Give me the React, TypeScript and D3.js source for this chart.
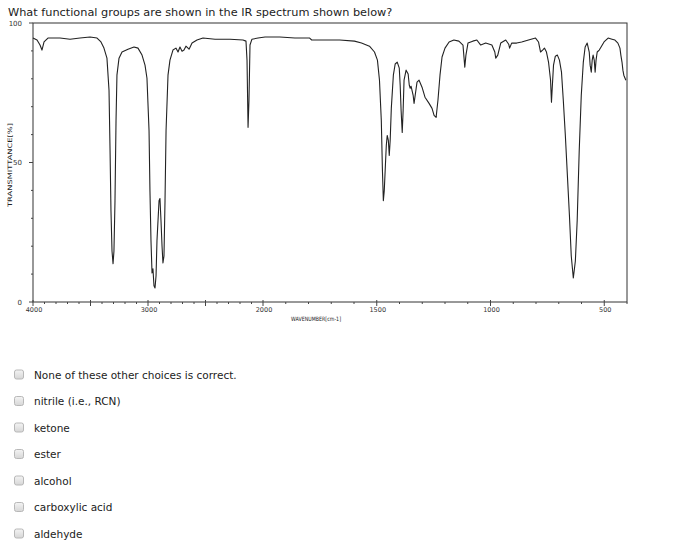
import React from "react";
import * as d3 from "d3";

const questionText = "What functional groups are shown in the IR spectrum shown below?";
const choices = [
  "None of these other choices is correct.",
  "nitrile (i.e., RCN)",
  "ketone",
  "ester",
  "alcohol",
  "carboxylic acid",
  "aldehyde",
];

const xTickLabels = [4000, 3000, 2000, 1500, 1000, 500];
const yTickLabels = [0, 50, 100];

// wavenumber (cm-1)
const wavenumbers = [
  4000, 3965, 3939, 3922, 3904, 3870, 3765, 3678, 3591, 3504, 3443, 3409, 3383, 3357, 3339, 3330, 3322, 3313, 3304, 3296,
  3287, 3278, 3270, 3252, 3226, 3174, 3122, 3087, 3052, 3026, 3009, 2991, 2983, 2974, 2965, 2957, 2948, 2939, 2930, 2922,
  2904, 2896, 2887, 2878, 2870, 2861, 2852, 2843, 2826, 2809, 2783, 2757, 2739, 2722, 2704, 2687, 2670, 2643, 2617, 2574,
  2522, 2417, 2287, 2174, 2148, 2139, 2130, 2122, 2113, 2096, 2043, 1991, 1926, 1860, 1795, 1786, 1729, 1663, 1598, 1567,
  1532, 1510, 1497, 1488, 1480, 1475, 1471, 1467, 1462, 1458, 1454, 1449, 1445, 1441, 1436, 1427, 1419, 1410, 1401, 1397,
  1393, 1388, 1384, 1380, 1371, 1362, 1357, 1353, 1349, 1340, 1336, 1331, 1323, 1314, 1301, 1288, 1270, 1257, 1248, 1239,
  1231, 1222, 1213, 1200, 1182, 1161, 1139, 1121, 1113, 1108, 1099, 1078, 1060, 1043, 1021, 994, 981, 977, 968, 955,
  933, 920, 916, 907, 885, 863, 833, 802, 789, 780, 771, 763, 754, 745, 736, 732, 728, 723, 715, 706,
  697, 688, 680, 671, 662, 653, 645, 636, 627, 619, 610, 601, 592, 584, 575, 566, 562, 557, 553, 549,
  544, 540, 536, 531, 522, 514, 501, 483, 466, 453, 440, 431, 427, 422, 418, 414, 405,
];

// transmittance (%)
const transmittance = [
  94.6, 93.9, 92.1, 90.3, 93.2, 94.6, 94.6, 94.2, 94.6, 95.0, 94.6, 93.2, 91.0, 87.4, 75.9, 54.3, 32.7, 18.3, 13.7, 18.3,
  36.3, 65.1, 81.3, 87.4, 89.6, 90.6, 91.4, 91.0, 88.5, 84.9, 80.2, 61.5, 39.9, 21.9, 10.4, 11.9, 5.8, 5.0, 9.4, 21.9,
  36.3, 37.1, 29.1, 20.1, 14.0, 16.5, 36.3, 61.5, 81.3, 86.7, 90.3, 91.0, 89.6, 91.4, 89.9, 90.3, 91.7, 90.6, 92.8, 93.9,
  94.6, 94.2, 94.2, 93.9, 93.5, 86.7, 62.6, 72.3, 92.1, 94.2, 94.6, 95.0, 95.0, 94.6, 94.6, 93.9, 93.9, 93.9, 93.5, 92.8,
  91.7, 89.6, 86.7, 79.5, 65.1, 47.1, 36.3, 39.9, 48.9, 56.1, 59.7, 57.9, 52.5, 57.9, 69.4, 81.3, 85.3, 86.0, 83.8, 77.7,
  68.7, 60.8, 68.7, 79.5, 83.1, 81.7, 77.7, 76.6, 77.3, 74.1, 71.2, 74.1, 78.8, 79.5, 77.0, 73.4, 71.2, 69.4, 66.9, 66.2,
  72.3, 81.3, 87.8, 91.0, 93.2, 93.9, 93.5, 92.1, 84.2, 88.5, 92.8, 93.5, 93.9, 92.1, 92.8, 92.1, 89.6, 87.4, 88.5, 92.8,
  93.9, 92.4, 91.0, 92.8, 92.8, 93.2, 93.9, 94.6, 93.2, 89.6, 90.3, 91.0, 89.6, 86.0, 79.5, 71.6, 77.7, 84.9, 88.1, 88.5,
  86.7, 82.4, 72.3, 59.7, 45.3, 30.9, 16.5, 8.6, 14.7, 29.1, 54.3, 74.1, 86.0, 91.4, 92.8, 89.6, 84.9, 82.4, 86.7, 88.5,
  86.7, 82.4, 86.7, 89.6, 90.3, 91.4, 93.2, 94.6, 94.2, 93.9, 92.8, 91.0, 88.5, 86.0, 83.1, 81.3, 79.5,
];

const x = d3.scaleLinear().domain([4000, 2000, 400]).range([33, 263, 627]);
const y = d3.scaleLinear().domain([0, 100]).range([302, 23]);

const xMinorTicks = d3.range(4000, 399, -100);
const yMinorTicks = d3.range(0, 101, 10);

export default function App() {
  const points = wavenumbers.map((w, i) => [w, transmittance[i]] as [number, number]);
  const line = d3
    .line<[number, number]>()
    .x((d) => x(d[0]))
    .y((d) => y(d[1]))
    .curve(d3.curveLinear);
  const axisFont = "'DejaVu Sans', sans-serif";
  return (
    <svg
      width={700}
      height={558}
      style={{ position: "absolute", left: 0, top: 0, background: "#fff" }}
    >
      <defs>
        <linearGradient id="cb" x1="0" y1="0" x2="0" y2="1">
          <stop offset="0" stopColor="#f4f4f4" />
          <stop offset="1" stopColor="#d6d6d6" />
        </linearGradient>
      </defs>
      <text x={8} y={16} fontFamily="'DejaVu Sans', Verdana, sans-serif" fontSize={11.3} fill="#222">
        {questionText}
      </text>

      {/* frame */}
      <rect x={x(4000)} y={y(100)} width={x(400) - x(4000)} height={y(0) - y(100)} fill="none" stroke="#333" strokeWidth={1} />

      {/* y ticks */}
      {yMinorTicks.map((t) => (
        <line key={"yt" + t} x1={x(4000) - (t % 50 === 0 ? 4 : 2)} x2={x(4000)} y1={y(t)} y2={y(t)} stroke="#444" strokeWidth={1} />
      ))}
      {yTickLabels.map((t) => (
        <text key={"yl" + t} x={x(4000) - 11} y={y(t) + 2.5} textAnchor="end" fontFamily={axisFont} fontSize={7} fill="#333">
          {t}
        </text>
      ))}

      {/* x ticks */}
      {xMinorTicks.map((t) => (
        <line
          key={"xt" + t}
          x1={x(t)}
          x2={x(t)}
          y1={t % 500 === 0 ? y(0) - 2 : y(0)}
          y2={y(0) + (t % 500 === 0 ? 4 : 2)}
          stroke="#444"
          strokeWidth={1}
        />
      ))}
      {xTickLabels.map((t) => (
        <text key={"xl" + t} x={x(t) + 1} y={y(0) + 9.5} textAnchor="middle" fontFamily={axisFont} fontSize={6.5} fill="#333">
          {t}
        </text>
      ))}

      <text x={291} y={321} textLength={50} lengthAdjust="spacingAndGlyphs" fontFamily={axisFont} fontSize={6} fill="#222">
        WAVENUMBER[cm-1]
      </text>
      <text
        transform={`translate(12,${165}) rotate(-90)`}
        x={-42}
        textLength={84}
        lengthAdjust="spacingAndGlyphs"
        fontFamily={axisFont}
        fontSize={6}
        fill="#222"
      >
        TRANSMITTANCE[%]
      </text>

      <path d={line(points) || ""} fill="none" stroke="#222" strokeWidth={1.1} strokeLinejoin="round" />

      {/* choices */}
      {choices.map((c, i) => {
        const cy = 374.5 + i * 26.5;
        return (
          <g key={c}>
            <rect x={14.5} y={cy - 4.5} width={9} height={9} rx={2} fill="url(#cb)" stroke="#b8b8b8" strokeWidth={1} />
            <text x={34} y={cy + 4} fontFamily="'DejaVu Sans', Verdana, sans-serif" fontSize={10.5} fill="#222">
              {c}
            </text>
          </g>
        );
      })}
    </svg>
  );
}
